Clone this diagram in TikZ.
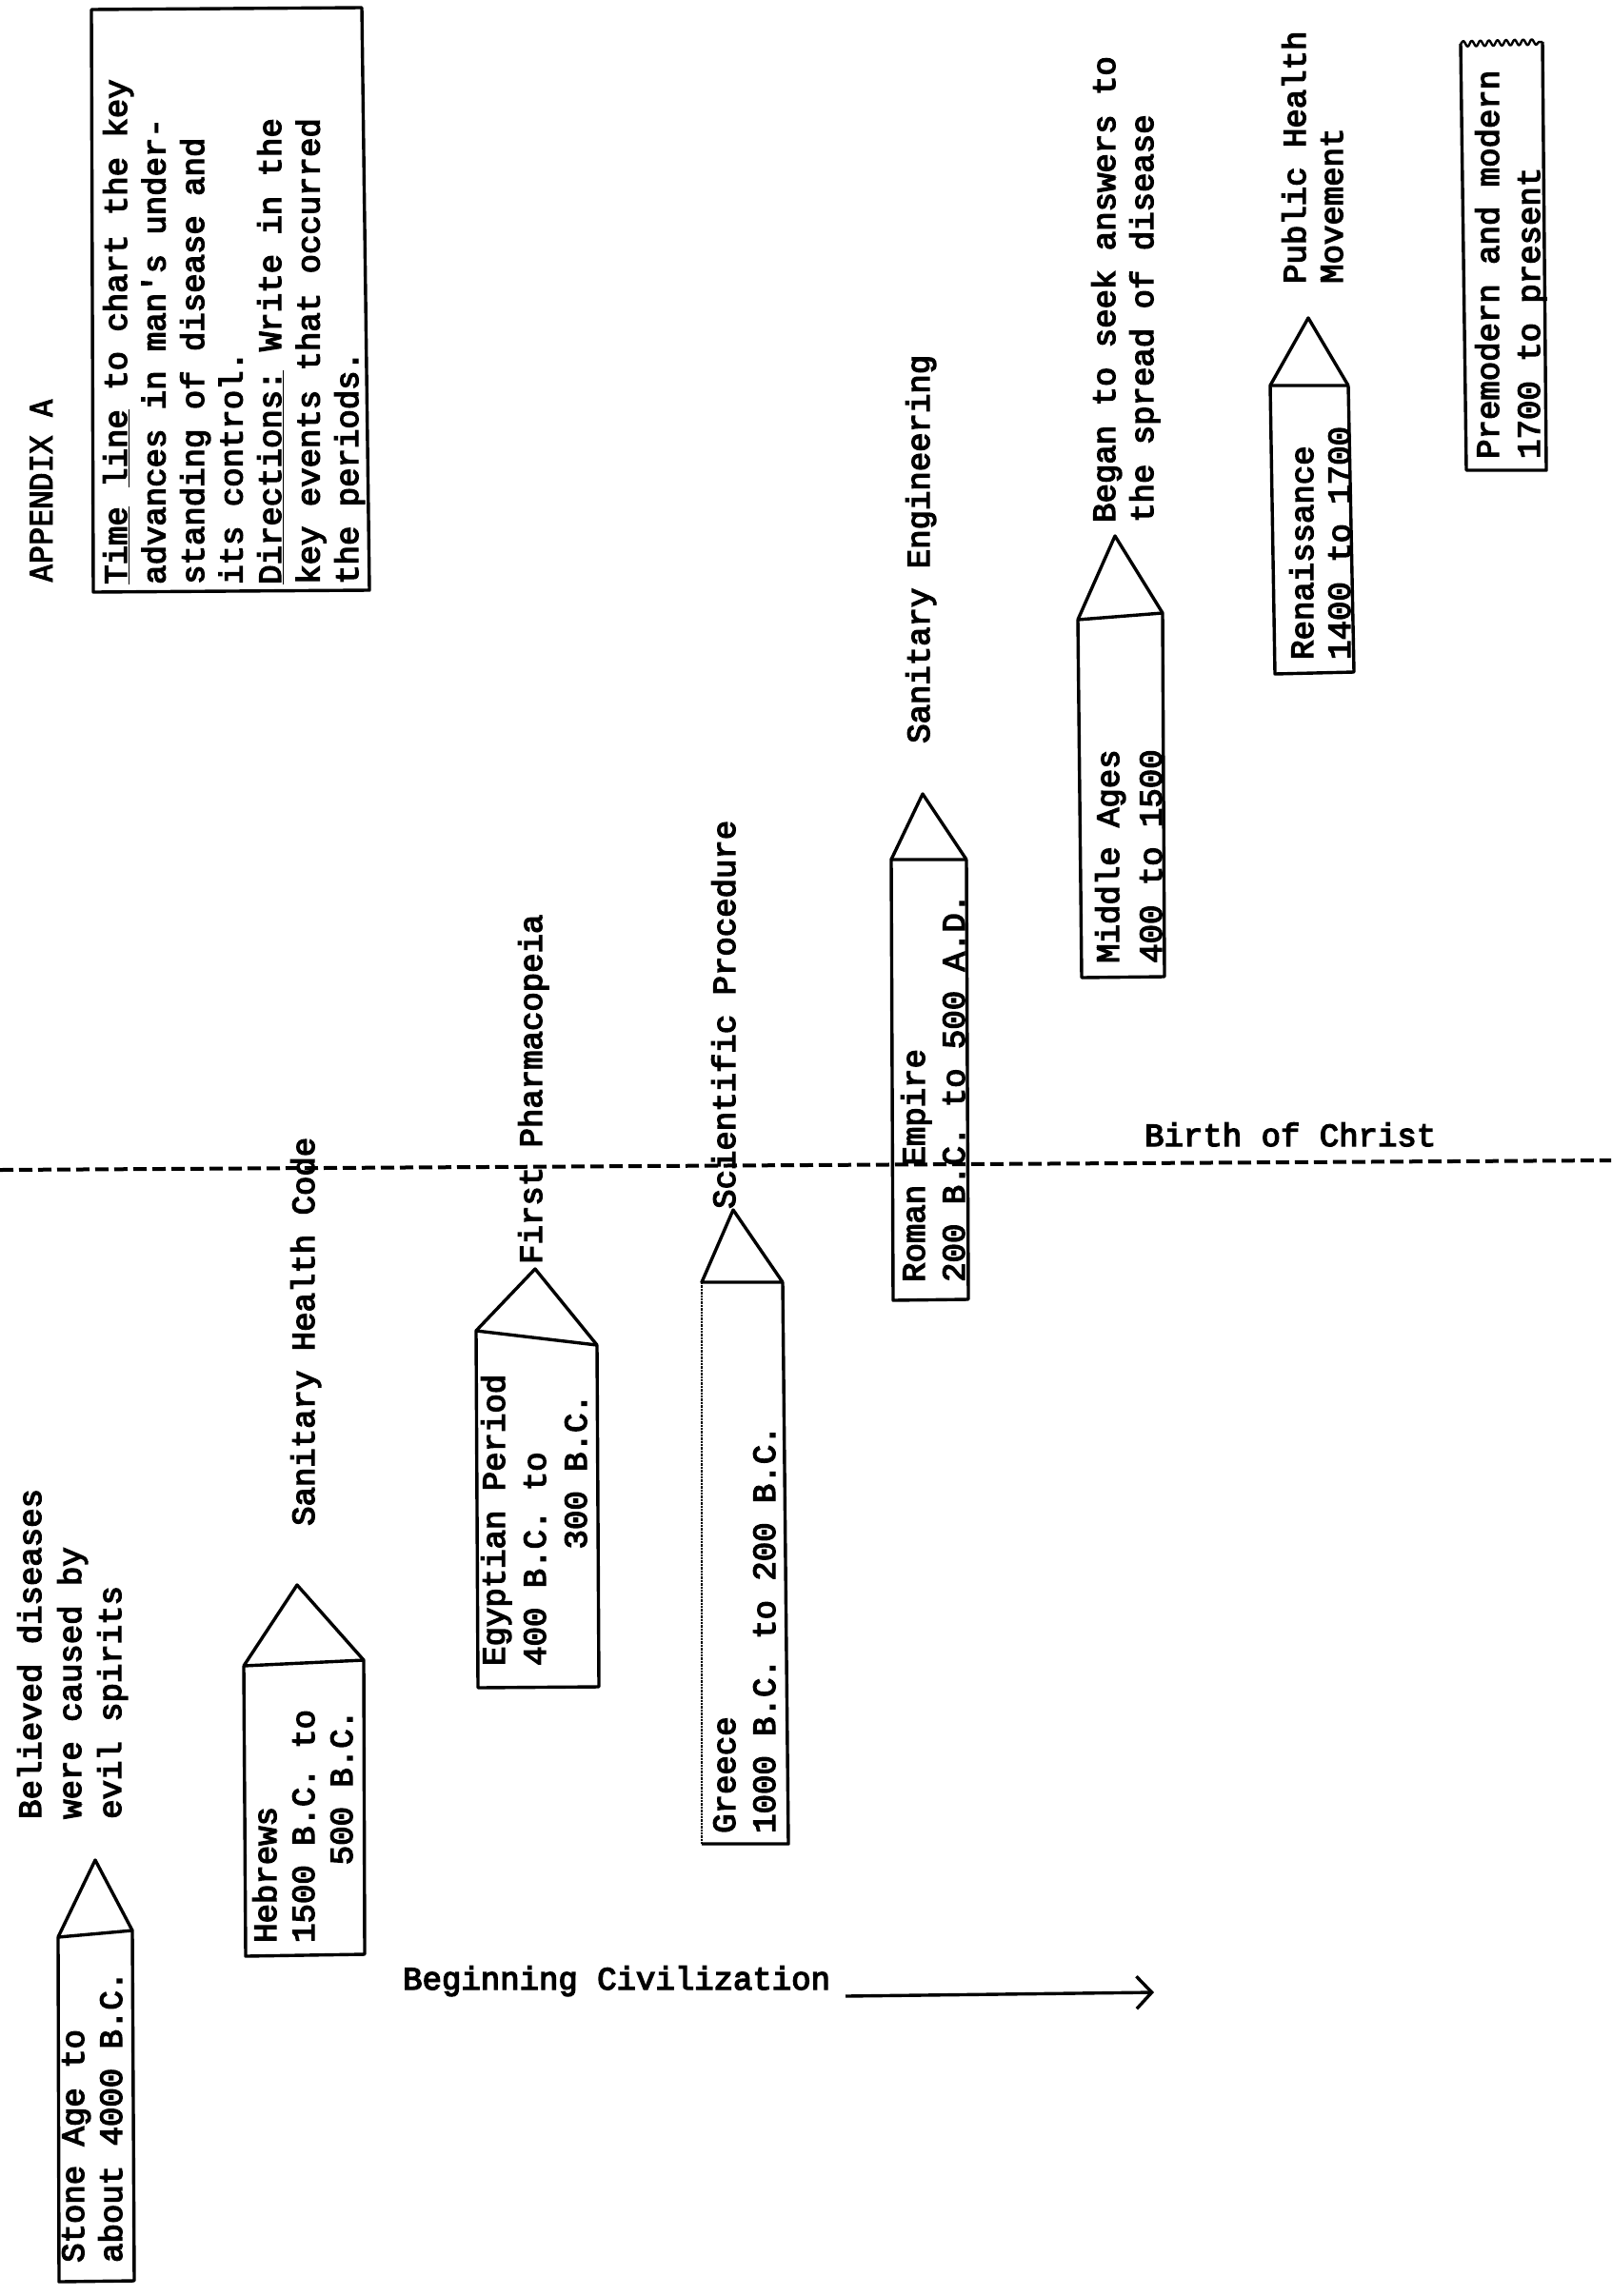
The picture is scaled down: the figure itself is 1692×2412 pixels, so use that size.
\documentclass[tikz,border=0pt]{standalone}
\usepackage{fontspec}
\usepackage{tikz}
\usetikzlibrary{arrows.meta,decorations.pathmorphing}
\setmonofont{Liberation Mono}
\newfontfamily\twfont[FakeBold=4]{Liberation Mono}
\newfontfamily\appfont[FakeBold=3]{DejaVu Sans Mono}
\newcommand{\typew}{\twfont\fontsize{34}{42}\selectfont}
\newcommand{\lines}[1]{\begin{tabular}[t]{@{}l@{}}#1\end{tabular}}
\tikzset{
  pencil/.style={draw=black,line width=3.4pt,line join=round},
  vlabel/.style={rotate=90,inner sep=0pt,anchor=base west,font=\typew},
  hlabel/.style={inner sep=0pt,anchor=base west,font=\typew},
}
\begin{document}
\begin{tikzpicture}[x=1pt,y=-1pt]
\useasboundingbox (0,0) rectangle (1692,2412);
% heading and directions:
\node[vlabel,font=\appfont\fontsize{32}{40}\selectfont] (appx) at (55,612) {APPENDIX A};
\path[pencil] (96,10) -- (380,8) -- (388,620) -- (98,622) -- cycle;
\node[vlabel,font=\typew\fontsize{34}{40.5}\selectfont] (instr) at (133,614)
  {\lines{\underline{Time} \underline{line} to chart the key\\
   advances in man's under-\\
   standing of disease and\\
   its control.\\
   \underline{Directions:} Write in the\\
   key events that occurred\\
   the periods.}};
% period boxes:
\path[pencil] (61,2035) -- (139,2028) -- (141,2396) -- (62,2397) -- cycle;
\path[pencil] (61,2035) -- (100,1954) -- (139,2028);
\path[pencil] (256,1750) -- (382,1744) -- (383,2053) -- (258,2055) -- cycle;
\path[pencil] (256,1750) -- (312,1665) -- (382,1744);
\path[pencil] (500,1398) -- (627,1413) -- (629,1772) -- (502,1773) -- cycle;
\path[pencil] (500,1398) -- (562,1333) -- (627,1413);
\path[pencil] (737,1937) -- (828,1937) -- (822,1347) -- (737,1347) -- (770,1271) -- (822,1347);
\path[draw=black,line width=2.4pt,densely dotted] (737,1347) -- (737,1937);
\path[pencil] (936,903) -- (1015,903) -- (1017,1365) -- (938,1366) -- cycle;
\path[pencil] (936,903) -- (969,834) -- (1015,903);
\path[pencil] (1132,651) -- (1221,644) -- (1223,1026) -- (1136,1027) -- cycle;
\path[pencil] (1132,651) -- (1171,563) -- (1221,644);
\path[pencil] (1334,405) -- (1416,405) -- (1422,706) -- (1339,708) -- cycle;
\path[pencil] (1334,405) -- (1374,334) -- (1416,405);
\path[pencil] (1620,44) -- (1624,494) -- (1540,494) -- (1534,46);
\path[pencil,line width=2.4pt,decorate,decoration={snake,amplitude=3pt,segment length=9pt}] (1534,46) -- (1620,44);
% texts in the boxes:
\node[vlabel] (stone) at (88,2377) {\lines{Stone Age to\\[-2pt] about 4000 B.C.}};
\node[vlabel] (hebrews) at (290,2041) {\lines{Hebrews\\[-2pt] 1500 B.C. to\\[-2pt] \hphantom{0000}500 B.C.}};
\node[vlabel] (egypt) at (530,1750) {\lines{Egyptian Period\\[1pt] 400 B.C. to\\[1pt] \hphantom{000000}300 B.C.}};
\node[vlabel] (greece) at (772,1926) {\lines{Greece\\ 1000 B.C. to 200 B.C.}};
\node[vlabel] (rome) at (971,1347) {\lines{Roman Empire\\ 200 B.C. to 500 A.D.}};
\node[vlabel] (middle) at (1175,1012) {\lines{Middle Ages\\[3pt] 400 to 1500}};
\node[vlabel] (renaiss) at (1379,693) {\lines{Renaissance\\[-3pt] 1400 to 1700}};
\node[vlabel] (modern) at (1574,482) {\lines{Premodern and modern\\[1pt] 1700 to present}};
% key events:
\node[vlabel] (spirits) at (43,1911) {\lines{Believed diseases\\ were caused by\\ evil spirits}};
\node[vlabel] (healthcode) at (330,1603) {Sanitary Health Code};
\node[vlabel] (pharma) at (569,1328) {First Pharmacopeia};
\node[vlabel] (science) at (772,1270) {Scientific Procedure};
\node[vlabel] (saneng) at (976,781) {Sanitary Engineering};
\node[vlabel] (seek) at (1171,549) {\lines{Began to seek answers to\\[-2pt] the spread of disease}};
\node[vlabel] (pubhealth) at (1371,298) {\lines{Public Health\\[-3pt] Movement}};
% birth of christ line:
\coordinate (bcwest) at (0,1229);
\coordinate (bceast) at (1692,1219);
\path[draw=black,line width=4pt,dash pattern=on 14pt off 6pt] (bcwest) -- (bceast);
\node[hlabel] (christ) at (1202,1204) {Birth of Christ};
% direction of time:
\node[hlabel] (civ) at (423,2090) {Beginning Civilization};
\coordinate (civtail) at (888,2097);
\coordinate (civhead) at (1212,2093);
\path[draw=black,line width=3.4pt,-{Straight Barb[length=16pt,width=34pt]}] (civtail) -- (civhead);
\end{tikzpicture}
\end{document}
